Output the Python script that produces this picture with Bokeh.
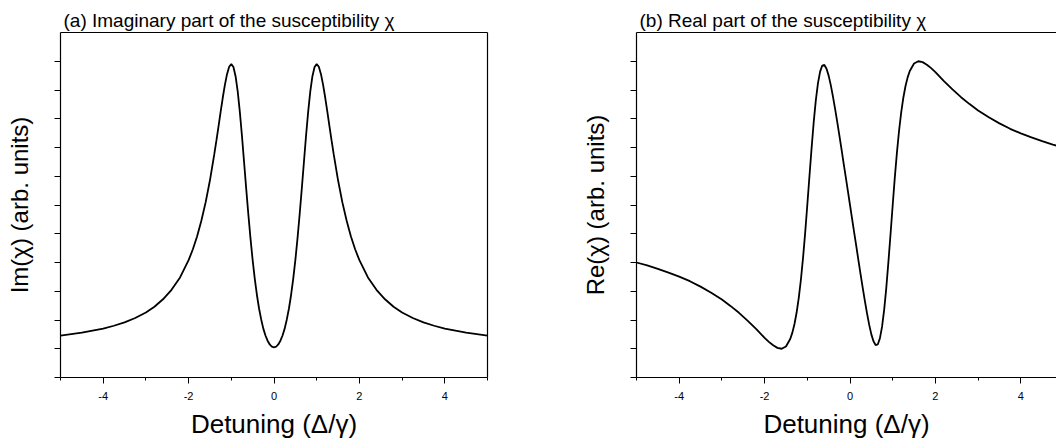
from bokeh.plotting import figure
from bokeh.layouts import row
from bokeh.models import FixedTicker, LinearAxis, Range1d
from bokeh.embed import file_html
from bokeh.resources import INLINE

# ---- data ----
detuning = [-5.0, -4.75, -4.5, -4.25, -4.0, -3.75, -3.5, -3.25, -3.0, -2.8, -2.6, -2.4, -2.2, -2.0,
            -1.9, -1.8, -1.7, -1.6, -1.5, -1.4, -1.35, -1.3, -1.25, -1.2, -1.15, -1.1, -1.05, -1.0,
            -0.95, -0.9, -0.85, -0.8, -0.75, -0.7, -0.65, -0.6, -0.55, -0.5, -0.45, -0.4, -0.35,
            -0.3, -0.25, -0.2, -0.15, -0.1, -0.05, 0.0,
            0.05, 0.1, 0.15, 0.2, 0.25, 0.3, 0.35, 0.4, 0.45, 0.5, 0.55, 0.6, 0.65, 0.7, 0.75, 0.8,
            0.85, 0.9, 0.95, 1.0, 1.05, 1.1, 1.15, 1.2, 1.25, 1.3, 1.35, 1.4, 1.5, 1.6, 1.7, 1.8,
            1.9, 2.0, 2.2, 2.4, 2.6, 2.8, 3.0, 3.25, 3.5, 3.75, 4.0, 4.25, 4.5, 4.75, 5.0]

im_chi = [1.46, 1.51, 1.56, 1.63, 1.70, 1.80, 1.92, 2.07, 2.26, 2.46, 2.72, 3.05, 3.48, 4.08,
          4.46, 4.91, 5.46, 6.10, 6.86, 7.75, 8.23, 8.73, 9.24, 9.73, 10.18, 10.55, 10.81, 10.90,
          10.80, 10.48, 9.95, 9.24, 8.40, 7.48, 6.55, 5.66, 4.83, 4.08, 3.43, 2.87, 2.40,
          2.02, 1.70, 1.46, 1.28, 1.15, 1.07, 1.05,
          1.07, 1.15, 1.28, 1.46, 1.70, 2.02, 2.40, 2.87, 3.43, 4.08, 4.83, 5.66, 6.55, 7.48, 8.40, 9.24,
          9.95, 10.48, 10.80, 10.90, 10.81, 10.55, 10.18, 9.73, 9.24, 8.73, 8.23, 7.75, 6.86, 6.10, 5.46, 4.91,
          4.46, 4.08, 3.48, 3.05, 2.72, 2.46, 2.26, 2.07, 1.92, 1.80, 1.70, 1.63, 1.56, 1.51, 1.46]

re_chi = [4.00, 3.90, 3.78, 3.65, 3.51, 3.35, 3.16, 2.95, 2.71, 2.49, 2.25, 1.98, 1.69, 1.38,
          1.24, 1.12, 1.03, 1.00, 1.08, 1.34, 1.56, 1.86, 2.26, 2.77, 3.40, 4.16, 5.03, 6.00,
          6.99, 7.97, 8.88, 9.65, 10.24, 10.64, 10.85, 10.87, 10.74, 10.50, 10.17, 9.78, 9.35,
          8.90, 8.43, 7.95, 7.46, 6.98, 6.49, 6.00,
          5.51, 5.02, 4.54, 4.05, 3.57, 3.10, 2.65, 2.22, 1.83, 1.50, 1.26, 1.13, 1.15, 1.36, 1.76, 2.35,
          3.12, 4.03, 5.00, 6.00, 6.97, 7.84, 8.60, 9.23, 9.74, 10.14, 10.44, 10.66, 10.92, 11.00, 10.97, 10.88,
          10.76, 10.62, 10.31, 10.02, 9.75, 9.51, 9.29, 9.05, 8.84, 8.65, 8.49, 8.35, 8.22, 8.10, 8.00]

x_ticks = [-4, -2, 0, 2, 4]
x_minor_ticks = [-5, -3, -1, 1, 3, 5]
x_tick_labels = ["-4", "-2", "0", "2", "4"]
y_ticks = [0, 1, 2, 3, 4, 5, 6, 7, 8, 9, 10, 11]

titles = ["(a) Imaginary part of the susceptibility \u03c7", "(b) Real part of the susceptibility \u03c7"]
y_labels = ["Im(\u03c7) (arb. units)", "Re(\u03c7) (arb. units)"]
x_label = "Detuning (\u0394/\u03b3)"

FONT = "Liberation Sans"


def frame_axis():
    return LinearAxis(ticker=FixedTicker(ticks=[], minor_ticks=[]),
                      major_tick_out=0, major_tick_in=0, minor_tick_out=0, minor_tick_in=0,
                      major_label_standoff=0, axis_line_width=1.2, axis_line_color="black")


def make_panel(title, ylabel, yvals, width, border_left, border_right, x_end, right_side):
    p = figure(width=width, height=443, output_backend="svg", toolbar_location=None,
               x_range=Range1d(-5, x_end), y_range=Range1d(0, 12),
               min_border_left=border_left, min_border_right=border_right,
               min_border_top=32, min_border_bottom=66, title=title)
    p.background_fill_color = "white"
    p.border_fill_color = "white"
    p.outline_line_color = None
    p.xgrid.visible = False
    p.ygrid.visible = False
    p.title.text_font = FONT
    p.title.text_font_size = "19px"
    p.title.text_font_style = "normal"
    p.title.text_color = "black"
    p.title.align = "left"
    p.title.offset = 3
    p.title.standoff = 4

    xa = p.below[0]
    xa.ticker = FixedTicker(ticks=x_ticks, minor_ticks=x_minor_ticks)
    xa.major_label_overrides = {t: s for t, s in zip(x_ticks, x_tick_labels)}
    xa.major_label_text_font = FONT
    xa.major_label_text_font_size = "11px"
    xa.major_label_text_color = "black"
    xa.major_label_standoff = 8
    xa.major_tick_out = 6
    xa.major_tick_in = 0
    xa.minor_tick_out = 3
    xa.minor_tick_in = 0
    xa.major_tick_line_color = "black"
    xa.minor_tick_line_color = "black"
    xa.axis_line_color = "black"
    xa.axis_line_width = 1.2
    xa.axis_label = x_label
    xa.axis_label_text_font = FONT
    xa.axis_label_text_font_size = "26px"
    xa.axis_label_text_font_style = "normal"
    xa.axis_label_text_color = "black"
    xa.axis_label_standoff = 6

    ya = p.left[0]
    # unlabeled tick marks: drawn as minor ticks so no tick labels exist
    ya.ticker = FixedTicker(ticks=[], minor_ticks=y_ticks)
    ya.major_label_standoff = 0
    ya.major_tick_out = 0
    ya.major_tick_in = 0
    ya.minor_tick_out = 6
    ya.minor_tick_in = 0
    ya.minor_tick_line_color = "black"
    ya.axis_line_color = "black"
    ya.axis_line_width = 1.2
    ya.axis_label = ylabel
    ya.axis_label_text_font = FONT
    ya.axis_label_text_font_size = "24px"
    ya.axis_label_text_font_style = "normal"
    ya.axis_label_text_color = "black"
    ya.axis_label_standoff = 22

    p.add_layout(frame_axis(), "above")
    if right_side:
        p.add_layout(frame_axis(), "right")

    p.line(detuning, yvals, line_color="black", line_width=1.8)
    return p


p1 = make_panel(titles[0], y_labels[0], im_chi, 560, 60, 73, 5, True)
p2 = make_panel(titles[1], y_labels[1], re_chi, 496, 76, 0, 4.836, False)

layout = row(p1, p2)
open("out.html", "w").write(file_html(layout, INLINE))
